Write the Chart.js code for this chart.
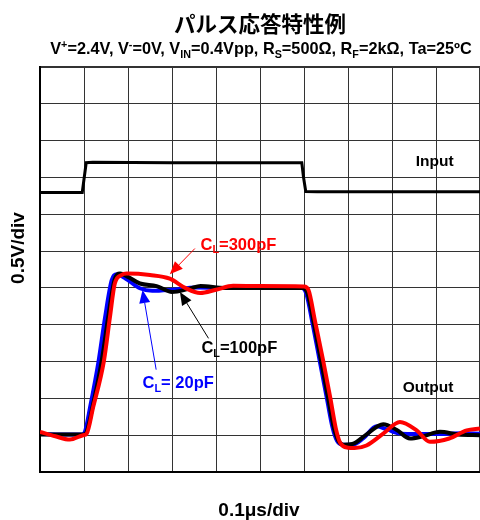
<!DOCTYPE html>
<html>
<head>
<meta charset="utf-8">
<script src="https://cdn.jsdelivr.net/npm/chart.js@4/dist/chart.umd.min.js"></script>
<style>
  body { margin: 0; background: #fff; }
  #wrap { width: 480px; height: 520px; }
</style>
</head>
<body>
<div id="wrap"><canvas id="pulseChart"></canvas></div>
<script>
// all values in scope divisions: x = 0.1us/div, y = 0.5V/div
const inputWave = [[0,7.59],[0.96,7.59],[1.0,7.95],[1.05,8.40],[1.2,8.41],[3,8.40],[5.95,8.40],[5.99,8.0],[6.04,7.62],[6.3,7.61],[10,7.61]]

const out20pF = [[0,1.03],[0.5,1.02],[0.95,1.02],[1.02,1.09],[1.14,1.77],[1.33,3.0],[1.48,4.21],[1.63,5.21],[1.74,5.37],[1.95,5.25],[2.27,4.99],[2.55,4.92],[3.0,4.95],[3.55,5.01],[4.2,5.0],[5.0,5.0],[5.95,5.0],[6.05,4.85],[6.2,4.0],[6.36,3.0],[6.52,2.0],[6.65,1.2],[6.75,0.85],[6.9,0.74],[7.1,0.74],[7.35,0.92],[7.65,1.24],[7.9,1.15],[8.2,1.04],[9.0,1.03],[9.6,1.05],[10,1.04]]

const out100pF = [[0,1.02],[0.5,1.02],[0.99,1.02],[1.06,1.09],[1.2,1.8],[1.4,3.0],[1.55,4.2],[1.69,5.2],[1.82,5.39],[2.0,5.3],[2.27,5.12],[2.65,5.05],[3.0,4.89],[3.4,4.98],[3.65,5.05],[4.2,5.0],[5.0,5.0],[5.97,5.0],[6.08,4.85],[6.23,4.0],[6.39,3.0],[6.55,2.0],[6.68,1.2],[6.78,0.85],[6.9,0.74],[7.1,0.76],[7.4,1.0],[7.8,1.30],[8.1,1.15],[8.41,0.91],[8.7,0.97],[9.09,1.09],[9.5,1.02],[10,1.0]]

const out300pF = [[0,1.09],[0.35,0.97],[0.68,0.88],[0.98,1.0],[1.06,1.04],[1.21,1.77],[1.45,3.0],[1.59,4.21],[1.7,5.12],[1.85,5.35],[1.97,5.39],[2.5,5.35],[2.95,5.25],[3.3,5.0],[3.64,4.86],[4.0,4.95],[4.39,5.06],[5.0,5.05],[6.0,5.04],[6.1,4.95],[6.25,4.1],[6.44,3.0],[6.6,2.0],[6.72,1.2],[6.82,0.8],[7.0,0.66],[7.15,0.65],[7.42,0.72],[7.8,1.04],[8.18,1.36],[8.56,1.13],[8.86,0.82],[9.3,0.91],[9.7,1.13],[10,1.18]]

const xDivs = 10
const yDivs = 11

// labels: [text parts, color, text x, text y, arrow from, arrow to]
const curveLabels = [
  [[['C',''],['L','sub'],['=300pF','']], '#ff0000', 4.51, 6.16, [3.52,6.07], [2.95,5.37]],
  [[['C',''],['L','sub'],['=100pF','']], '#000000', 4.53, 3.35, [3.83,3.63], [3.18,4.89]],
  [[['C',''],['L','sub'],['= 20pF','']], '#0000ff', 3.14, 2.40, [2.64,2.78], [2.33,4.94]],
  [[['Input','']], '#000000', 8.97, 8.43, null, null],
  [[['Output','']], '#000000', 8.82, 2.29, null, null]
]

const subtitleParts = [['V',''],['+','sup'],['=2.4V, V',''],['-','sup'],['=0V, V',''],['IN','sub'],['=0.4Vpp, R',''],['S','sub'],['=500Ω, R',''],['F','sub'],['=2kΩ, Ta=25ºC','']]

const toXY = pts => pts.map(p => ({x: p[0], y: p[1]}))

function richText(ctx, parts, cx, cy, size, color){
  const font = s => 'bold ' + s + 'px "Liberation Sans", Arial, sans-serif'
  let total = 0
  parts.forEach(p => {
    ctx.font = font(p[1] ? size * 0.66 : size)
    total += ctx.measureText(p[0]).width
  })
  let x = cx - total / 2
  ctx.fillStyle = color
  ctx.textAlign = 'left'
  ctx.textBaseline = 'middle'
  parts.forEach(p => {
    let s = p[1] ? size * 0.66 : size
    let dy = p[1] == 'sub' ? size * 0.3 : (p[1] == 'sup' ? -size * 0.32 : 0)
    ctx.font = font(s)
    ctx.fillText(p[0], x, cy + dy)
    x += ctx.measureText(p[0]).width
  })
}

function arrow(ctx, x1, y1, x2, y2, color){
  let a = Math.atan2(y2 - y1, x2 - x1)
  let len = 13, half = 5.5
  let bx = x2 - len * Math.cos(a), by = y2 - len * Math.sin(a)
  ctx.strokeStyle = color
  ctx.lineWidth = 1
  ctx.beginPath()
  ctx.moveTo(x1, y1)
  ctx.lineTo(bx, by)
  ctx.stroke()
  ctx.fillStyle = color
  ctx.beginPath()
  ctx.moveTo(x2, y2)
  ctx.lineTo(bx + half * Math.sin(a), by - half * Math.cos(a))
  ctx.lineTo(bx - half * Math.sin(a), by + half * Math.cos(a))
  ctx.closePath()
  ctx.fill()
}

const textPlugin = {
  id: 'scopeText',
  afterDraw(chart){
    const ctx = chart.ctx
    const xs = chart.scales.x, ys = chart.scales.y
    ctx.save()
    ctx.fillStyle = '#000'
    ctx.textAlign = 'center'
    ctx.textBaseline = 'middle'
    ctx.font = 'bold 21.5px "Noto Sans CJK JP", sans-serif'
    ctx.fillText('パルス応答特性例', 260, 24)
    richText(ctx, subtitleParts, 261, 50, 16.3, '#000')

    ctx.font = 'bold 19px "Liberation Sans", Arial, sans-serif'
    ctx.fillStyle = '#000'
    ctx.textAlign = 'center'
    ctx.fillText('0.1μs/div', 259, 511)
    ctx.save()
    ctx.translate(19, 248)
    ctx.rotate(-Math.PI / 2)
    ctx.fillText('0.5V/div', 0, 0)
    ctx.restore()

    curveLabels.forEach(l => {
      if (l[4]) {
        arrow(ctx, xs.getPixelForValue(l[4][0]), ys.getPixelForValue(l[4][1]),
              xs.getPixelForValue(l[5][0]), ys.getPixelForValue(l[5][1]), l[1])
      }
      richText(ctx, l[0], xs.getPixelForValue(l[2]), ys.getPixelForValue(l[3]), l[4] ? 16.5 : 15.5, l[1])
    })
    ctx.restore()
  }
}

const gridWidth = c => (c.tick.value == 0 || c.tick.value == (c.scale.axis == 'x' ? xDivs : yDivs)) ? 2 : 1

new Chart(document.getElementById('pulseChart'), {
  type: 'line',
  data: {
    datasets: [
      {label: 'Input', data: toXY(inputWave), borderColor: '#000', borderWidth: 3, tension: 0, order: 4},
      {label: 'CL=300pF', data: toXY(out300pF), borderColor: '#ff0000', borderWidth: 4, cubicInterpolationMode: 'monotone', order: 1},
      {label: 'CL=100pF', data: toXY(out100pF), borderColor: '#000', borderWidth: 4, cubicInterpolationMode: 'monotone', order: 2},
      {label: 'CL=20pF', data: toXY(out20pF), borderColor: '#0000ff', borderWidth: 4, cubicInterpolationMode: 'monotone', order: 3}
    ]
  },
  options: {
    responsive: true,
    maintainAspectRatio: false,
    animation: false,
    layout: {padding: {left: 40, right: 0, top: 67, bottom: 48}},
    elements: {point: {radius: 0}},
    plugins: {legend: {display: false}, tooltip: {enabled: false}},
    scales: {
      x: {
        type: 'linear', min: 0, max: xDivs,
        ticks: {display: false, stepSize: 1},
        grid: {color: '#333', lineWidth: gridWidth, drawTicks: false},
        border: {display: true, color: '#000', width: 2}
      },
      y: {
        type: 'linear', min: 0, max: yDivs,
        ticks: {display: false, stepSize: 1},
        grid: {color: '#333', lineWidth: gridWidth, drawTicks: false},
        border: {display: true, color: '#000', width: 2}
      }
    }
  },
  plugins: [textPlugin]
})
</script>
</body>
</html>
